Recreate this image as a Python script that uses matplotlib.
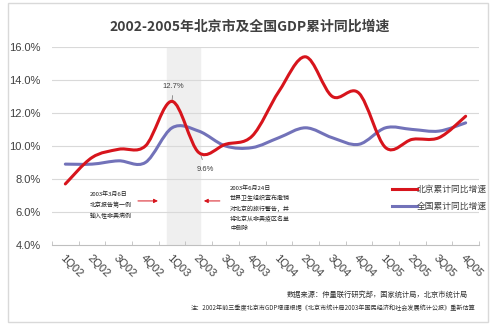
import matplotlib
matplotlib.use('Agg')
import matplotlib.pyplot as plt
from matplotlib.path import Path
from matplotlib.patches import PathPatch, Rectangle
from matplotlib.lines import Line2D

plt.rcParams['font.family'] = ['Noto Sans CJK SC', 'DejaVu Sans']

quarters = ['1Q02', '2Q02', '3Q02', '4Q02', '1Q03', '2Q03', '3Q03', '4Q03',
            '1Q04', '2Q04', '3Q04', '4Q04', '1Q05', '2Q05', '3Q05', '4Q05']
beijing = [7.7, 9.3, 9.8, 10.0, 12.7, 9.6, 10.1, 10.6,
           13.3, 15.4, 13.0, 13.2, 9.9, 10.4, 10.5, 11.8]
national = [8.9, 8.9, 9.1, 9.0, 11.1, 10.9, 10.0, 9.9,
            10.5, 11.1, 10.5, 10.1, 11.1, 11.0, 10.9, 11.4]

red = '#d7141c'
blue = '#7272b9'


def smooth_path(xs, ys):
    # excel-like smoothed line, bezier segments through each point
    n = len(xs)
    pts = list(zip(xs, ys))
    verts = [pts[0]]
    codes = [Path.MOVETO]
    for i in range(n - 1):
        p0 = pts[i - 1] if i > 0 else pts[i]
        p1 = pts[i]
        p2 = pts[i + 1]
        p3 = pts[i + 2] if i + 2 < n else pts[i + 1]
        c1 = (p1[0] + (p2[0] - p0[0]) / 6, p1[1] + (p2[1] - p0[1]) / 6)
        c2 = (p2[0] - (p3[0] - p1[0]) / 6, p2[1] - (p3[1] - p1[1]) / 6)
        verts += [c1, c2, p2]
        codes += [Path.CURVE4] * 3
    return Path(verts, codes)


fig = plt.figure(figsize=(5, 3.28), dpi=100)
fig.patches.append(Rectangle((0.016, 0.018), 0.96, 0.972, transform=fig.transFigure,
                             fill=False, edgecolor='#d9d9d9', linewidth=1))
ax = fig.add_axes([0.104, 0.253, 0.854, 0.604])

x = list(range(len(quarters)))
ax.axvspan(3.8, 5.05, color='#efefef', zorder=0)
for g in [6, 8, 10, 12, 14, 16]:
    ax.axhline(g, color='#d9d9d9', linewidth=0.8, zorder=1)

ax.add_patch(PathPatch(smooth_path(x, beijing), facecolor='none', edgecolor=red,
                       linewidth=2.2, zorder=4, capstyle='round'))
ax.add_patch(PathPatch(smooth_path(x, national), facecolor='none', edgecolor=blue,
                       linewidth=2.2, zorder=3, capstyle='round'))

ax.set_xlim(-0.5, 15.5)
ax.set_ylim(4, 16)
ax.set_yticks([4, 6, 8, 10, 12, 14, 16])
ax.set_yticklabels(['%.1f%%' % v for v in [4, 6, 8, 10, 12, 14, 16]],
                   fontsize=8, family='Liberation Sans', color='#404040')
ax.set_xticks(x)
ax.set_xticklabels(quarters, rotation=-45, ha='left', va='top', rotation_mode='anchor',
                   fontsize=8, family='Liberation Sans', color='#404040')
ax.set_xticks([i - 0.5 for i in range(len(quarters) + 1)], minor=True)
ax.tick_params(axis='x', which='major', length=0, pad=6)
ax.tick_params(axis='x', which='minor', direction='in', length=3, color='#bfbfbf')
ax.tick_params(axis='y', length=0, pad=8)
for s in ['top', 'right', 'left']:
    ax.spines[s].set_visible(False)
ax.spines['bottom'].set_color('#bfbfbf')
ax.set_facecolor('none')

# point labels
ax.annotate('12.7%', xy=(4.0, 12.75), xytext=(4.05, 13.6), fontsize=5.5,
            family='Liberation Sans', color='#404040', ha='center', va='center',
            arrowprops=dict(arrowstyle='-', color='#808080', lw=0.6,
                            shrinkA=2, shrinkB=0))
ax.annotate('9.6%', xy=(5.05, 9.6), xytext=(5.25, 8.55), fontsize=5.5,
            family='Liberation Sans', color='#404040', ha='center', va='center',
            arrowprops=dict(arrowstyle='-', color='#808080', lw=0.6,
                            shrinkA=3, shrinkB=0))

ax.text(0.92, 7.25, '2003年3月6日\n北京报告第一例\n输入性非典病例', fontsize=4.3,
        va='top', ha='left', linespacing=1.9, color='#202020', zorder=5)
ax.text(6.17, 7.6, '2003年6月24日\n世界卫生组织宣布撤销\n对北京的旅行警告，并\n将北京从非典疫区名单\n中删除',
        fontsize=4.3, va='top', ha='left', linespacing=1.75, color='#202020', zorder=5)
ax.annotate('', xy=(3.47, 6.67), xytext=(2.72, 6.67),
            arrowprops=dict(arrowstyle='-|>', color=red, lw=0.7, mutation_scale=6,
                            shrinkA=0, shrinkB=0))
ax.annotate('', xy=(5.19, 6.67), xytext=(5.79, 6.67),
            arrowprops=dict(arrowstyle='-|>', color=red, lw=0.7, mutation_scale=6,
                            shrinkA=0, shrinkB=0))

handles = [Line2D([], [], color=red, linewidth=2.2),
           Line2D([], [], color=blue, linewidth=2.2)]
leg = ax.legend(handles, ['北京累计同比增速', '全国累计同比增速'], loc='upper left',
                bbox_to_anchor=(0.785, 0.325), frameon=False, fontsize=6.3,
                handlelength=2.9, handletextpad=0.0, labelspacing=0.9,
                borderpad=0)
for t in leg.get_texts():
    t.set_color('#404040')

fig.text(0.5, 0.92, '2002-2005年北京市及全国GDP累计同比增速', ha='center', va='center',
         fontsize=10, fontweight='bold', color='#404040')
fig.text(0.936, 0.101, '数据来源：仲量联行研究部，国家统计局，北京市统计局', ha='right',
         va='center', fontsize=5.2, color='#303030')
fig.text(0.95, 0.061, '注：2002年前三季度北京市GDP增速根据《北京市统计局2003年国民经济和社会发展统计公报》重新估算',
         ha='right', va='center', fontsize=4.4, color='#303030')

fig.savefig('out.png', dpi=100)
